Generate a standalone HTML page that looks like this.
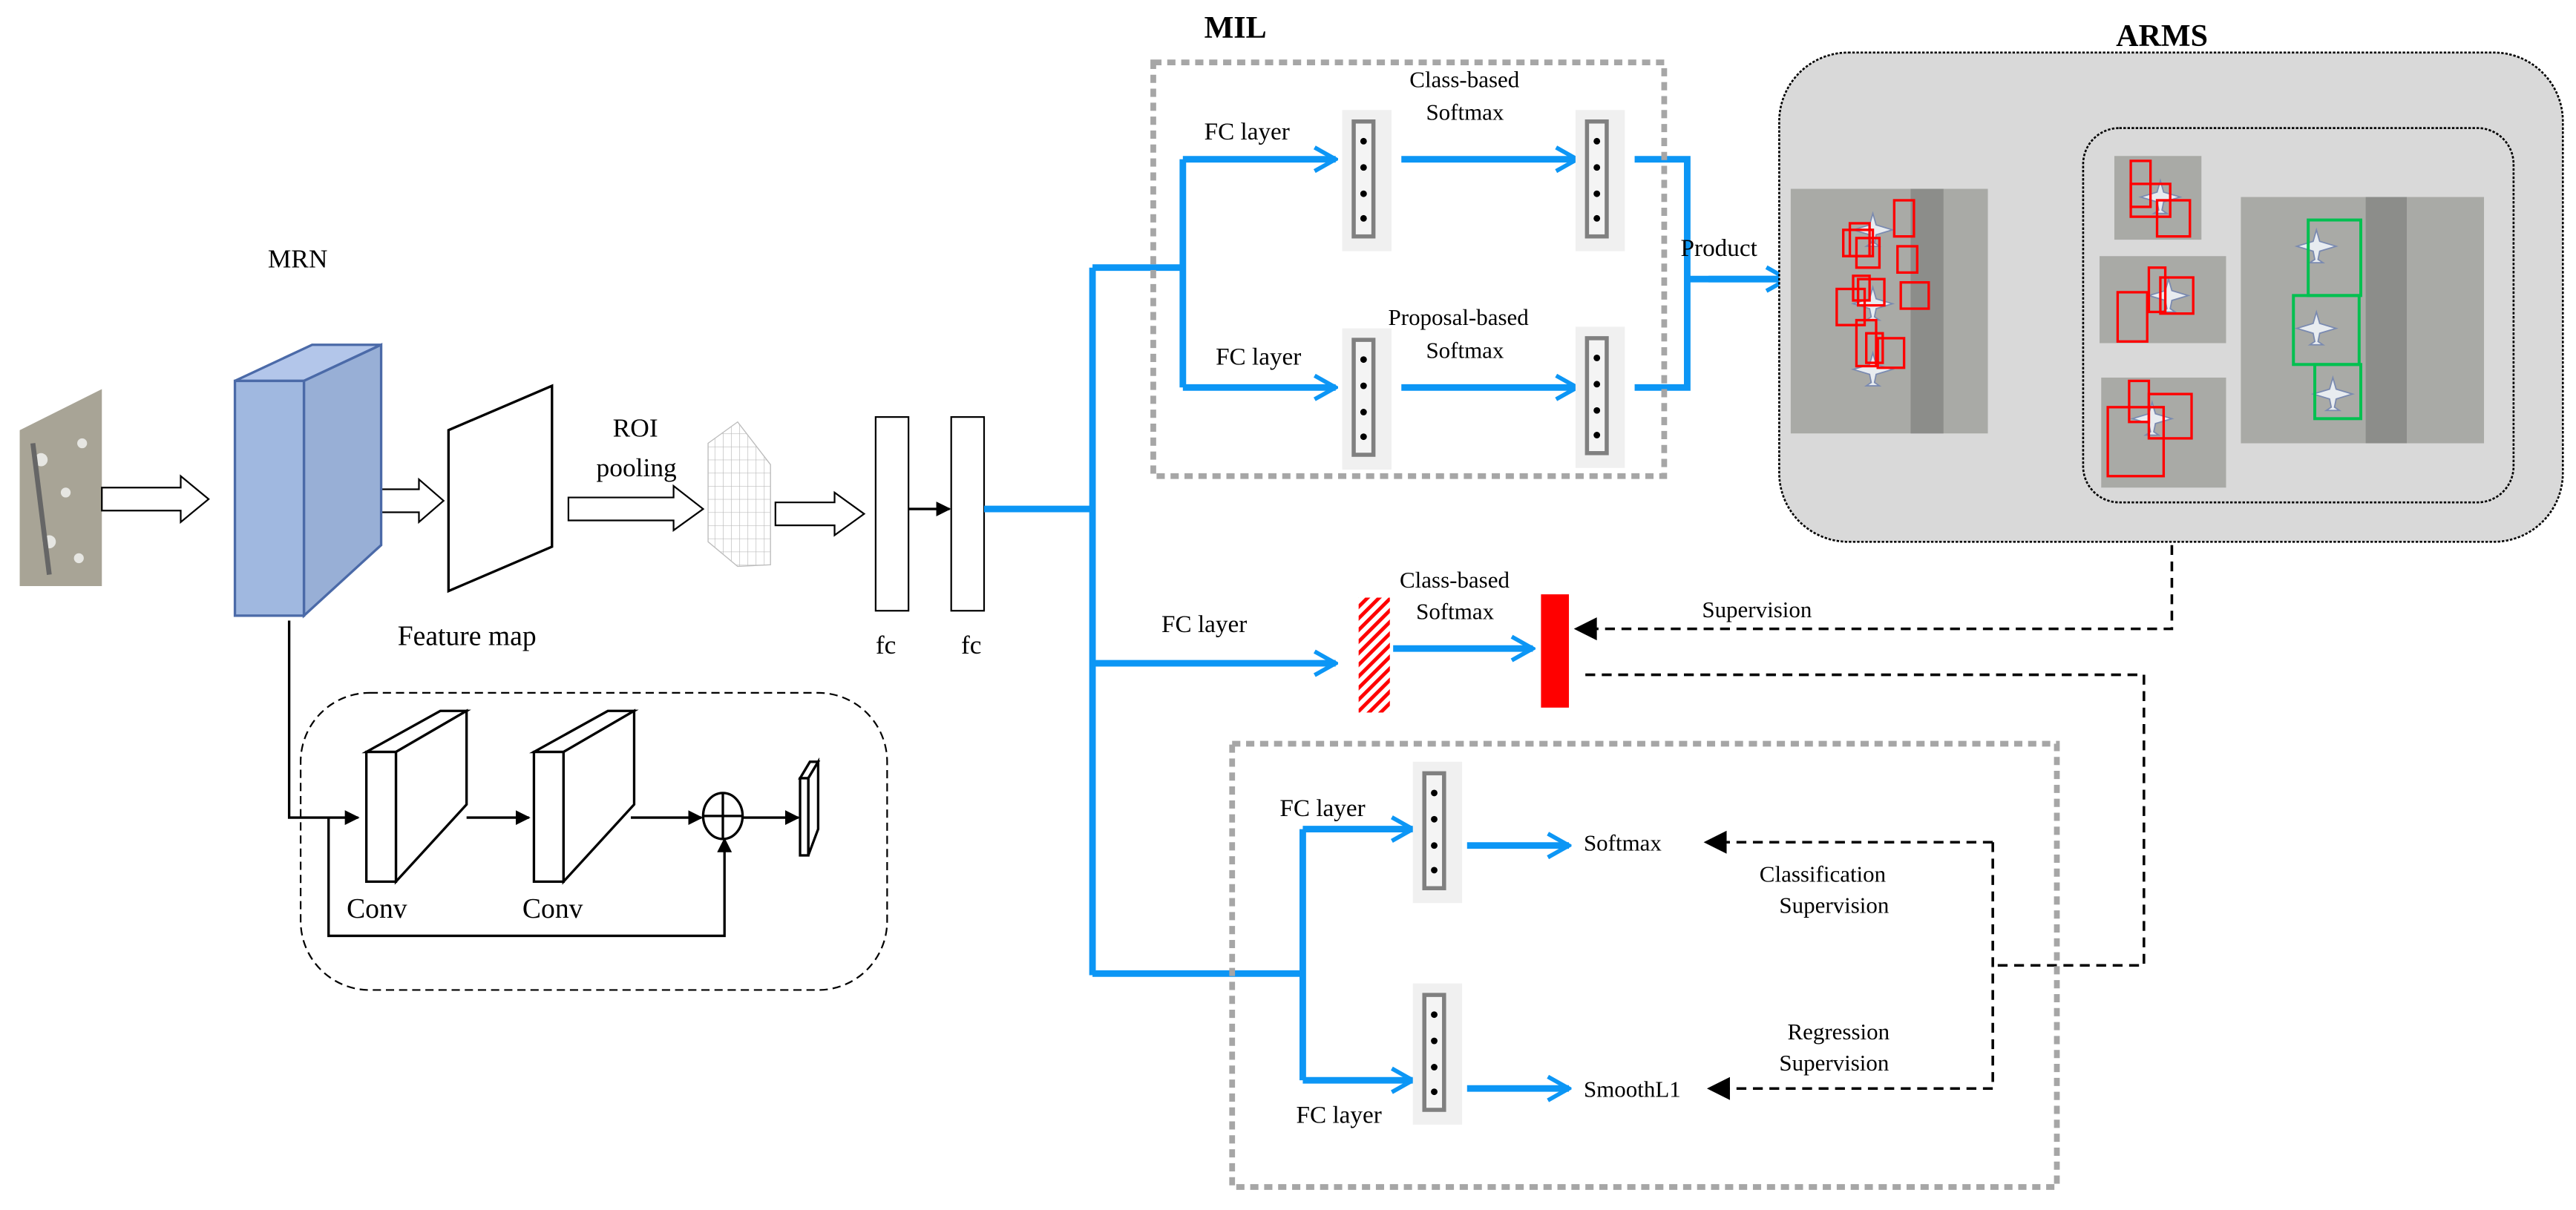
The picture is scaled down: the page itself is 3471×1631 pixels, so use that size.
<!DOCTYPE html>
<html><head><meta charset="utf-8"><style>html,body{margin:0;padding:0;background:#fff}svg{display:block}text{font-family:"Liberation Serif","Noto Serif CJK SC",serif;fill:#000}</style></head><body>
<svg width="3471" height="1631" viewBox="0 0 1568 737" preserveAspectRatio="none" xmlns="http://www.w3.org/2000/svg">
<defs>
<marker id="ba" viewBox="0 0 10 10" refX="9" refY="5" markerWidth="4" markerHeight="5" orient="auto" markerUnits="strokeWidth"><path d="M1,0.5 L9,5 L1,9.5" fill="none" stroke="#0c96f5" stroke-width="1.6"/></marker>
<marker id="ka" viewBox="0 0 10 10" refX="9" refY="5" markerWidth="6" markerHeight="6" orient="auto" markerUnits="strokeWidth"><path d="M0,0 L10,5 L0,10z" fill="#000"/></marker>
<pattern id="hatch" width="5" height="5" patternUnits="userSpaceOnUse" patternTransform="rotate(45)"><rect width="2.2" height="5" fill="#f00"/></pattern>
<pattern id="gridp" width="5" height="8" patternUnits="userSpaceOnUse"><path d="M0,0H5M0,0V8" stroke="#bbb" stroke-width="0.6" fill="none"/></pattern>
<g id="mod"><rect x="0" y="0" width="30" height="86" fill="#f0f0f0"/><rect x="7" y="7" width="12" height="70" fill="#f4f4f4" stroke="#808080" stroke-width="2.5"/><circle cx="13" cy="19" r="2" fill="#000"/><circle cx="13" cy="35" r="2" fill="#000"/><circle cx="13" cy="51" r="2" fill="#000"/><circle cx="13" cy="66" r="2" fill="#000"/></g>
<g id="plane"><path d="M0,-10 L2,-3 L12,0 L2,3 L1,8 L4,10 L-4,10 L-1,8 L-2,3 L-12,0 L-2,-3Z" fill="#e8ecf0" stroke="#7a8ab0" stroke-width="0.8"/></g>
</defs>
<!-- input image -->
<polygon points="12,262 62,237 62,357 12,357" fill="#a8a496"/>
<g fill="#e6e6e2"><circle cx="25" cy="280" r="4"/><circle cx="40" cy="300" r="3"/><circle cx="30" cy="330" r="4"/><circle cx="50" cy="270" r="3"/><circle cx="48" cy="340" r="3"/></g>
<path d="M20,270 L30,350" stroke="#666" stroke-width="3"/>
<!-- hollow arrows -->
<g fill="#fff" stroke="#000" stroke-width="1">
<path d="M62,297 H110 V290 L127,304 L110,318 V311 H62Z"/>
<path d="M229,298 H255 V292 L270,305 L255,318 V312 H229Z"/>
<path d="M346,303 H410 V296 L428,310 L410,323 V317 H346Z"/>
<path d="M472,306 H508 V300 L526,313 L508,326 V320 H472Z"/>
</g>
<!-- MRN -->
<text x="163" y="163" font-size="16">MRN</text>
<polygon points="143,232 185,232 232,210 190,210" fill="#b3c6ea" stroke="#4b6aa8" stroke-width="1.5"/>
<polygon points="185,232 232,210 232,332 185,375" fill="#98afd6" stroke="#4b6aa8" stroke-width="1.5"/>
<rect x="143" y="232" width="42" height="143" fill="#a0b8e0" stroke="#4b6aa8" stroke-width="1.5"/>
<!-- feature map -->
<polygon points="273,262 336,235 336,333 273,360" fill="#fff" stroke="#000" stroke-width="1.5"/>
<text x="242" y="393" font-size="17">Feature map</text>
<text x="373" y="266" font-size="16">ROI</text>
<text x="363" y="290" font-size="16">pooling</text>
<!-- grid -->
<polygon points="431,270 449,257 469,283 469,344 449,345 431,330" fill="url(#gridp)" stroke="#bbb" stroke-width="0.6"/>
<!-- fc -->
<rect x="533" y="254" width="20" height="118" fill="#fff" stroke="#000" stroke-width="1"/>
<rect x="579" y="254" width="20" height="118" fill="#fff" stroke="#000" stroke-width="1"/>
<line x1="553" y1="310" x2="578" y2="310" stroke="#000" stroke-width="1.5" marker-end="url(#ka)"/>
<text x="533" y="398" font-size="16">fc</text><text x="585" y="398" font-size="16">fc</text>
<!-- blue trunk -->
<g stroke="#0c96f5" stroke-width="4" fill="none">
<path d="M599,310 H665 M665,163 V594 M665,163 H720 M720,97 V236"/>
<path d="M720,97 H813" marker-end="url(#ba)"/>
<path d="M720,236 H813" marker-end="url(#ba)"/>
<path d="M853,97 H960" marker-end="url(#ba)"/>
<path d="M853,236 H960" marker-end="url(#ba)"/>
<path d="M995,97 H1027 V236 H995 M1027,170 H1088" />
<path d="M1040,170 H1088" marker-end="url(#ba)"/>
<path d="M665,404 H813" marker-end="url(#ba)"/>
<path d="M848,395 H933" marker-end="url(#ba)"/>
<path d="M665,593 H793 M793,505 V658"/>
<path d="M793,505 H860" marker-end="url(#ba)"/>
<path d="M793,658 H860" marker-end="url(#ba)"/>
<path d="M893,515 H955" marker-end="url(#ba)"/>
<path d="M893,663 H955" marker-end="url(#ba)"/>
</g>
<!-- MIL box -->
<text x="733" y="23" font-size="19" font-weight="bold">MIL</text>
<rect x="702" y="38" width="311" height="252" fill="none" stroke="#a6a6a6" stroke-width="3.5" stroke-dasharray="5,3.5"/>
<use href="#mod" x="817" y="67"/><use href="#mod" x="959" y="67"/>
<use href="#mod" x="817" y="200"/><use href="#mod" x="959" y="199"/>
<text x="733" y="85" font-size="15">FC layer</text>
<text x="740" y="222" font-size="15">FC layer</text>
<text x="858" y="53" font-size="14">Class-based</text>
<text x="868" y="73" font-size="14">Softmax</text>
<text x="845" y="198" font-size="14">Proposal-based</text>
<text x="868" y="218" font-size="14">Softmax</text>
<text x="1023" y="156" font-size="15">Product</text>
<!-- ARMS -->
<text x="1288" y="28" font-size="19" font-weight="bold">ARMS</text>
<rect x="1083" y="32" width="477" height="298" rx="42" fill="#d9d9d9" stroke="#000" stroke-width="1.2" stroke-dasharray="1.5,1"/>
<rect x="1268" y="78" width="262" height="228" rx="22" fill="none" stroke="#000" stroke-width="1.2" stroke-dasharray="1.5,1"/>
<g>
<rect x="1090" y="115" width="120" height="149" fill="#a9aaa6"/><rect x="1163" y="115" width="20" height="149" fill="#8c8d8a"/>
<rect x="1287" y="95" width="53" height="51" fill="#a9aaa6"/>
<rect x="1278" y="156" width="77" height="53" fill="#a9aaa6"/>
<rect x="1279" y="230" width="76" height="67" fill="#a9aaa6"/>
<rect x="1364" y="120" width="148" height="150" fill="#a9aaa6"/><rect x="1440" y="120" width="25" height="150" fill="#8c8d8a"/>
<use href="#plane" x="1140" y="140"/><use href="#plane" x="1140" y="185"/><use href="#plane" x="1140" y="225"/>
<use href="#plane" x="1315" y="120"/><use href="#plane" x="1320" y="180"/><use href="#plane" x="1310" y="255"/>
<use href="#plane" x="1410" y="150"/><use href="#plane" x="1410" y="200"/><use href="#plane" x="1420" y="240"/>
</g>
<g fill="none" stroke="#f00" stroke-width="1.5">
<rect x="1153" y="122" width="12" height="22"/><rect x="1126" y="136" width="12" height="20"/><rect x="1122" y="140" width="18" height="16"/><rect x="1130" y="145" width="14" height="18"/><rect x="1155" y="150" width="12" height="16"/><rect x="1128" y="168" width="10" height="15"/><rect x="1118" y="176" width="17" height="22"/><rect x="1131" y="170" width="16" height="16"/><rect x="1157" y="172" width="17" height="16"/><rect x="1130" y="195" width="12" height="28"/><rect x="1136" y="203" width="10" height="18"/><rect x="1143" y="206" width="16" height="18"/>
<rect x="1297" y="98" width="12" height="28"/><rect x="1297" y="112" width="24" height="20"/><rect x="1313" y="122" width="20" height="22"/>
<rect x="1308" y="163" width="10" height="27"/><rect x="1315" y="169" width="20" height="22"/><rect x="1289" y="178" width="18" height="30"/>
<rect x="1296" y="232" width="12" height="25"/><rect x="1308" y="240" width="26" height="27"/><rect x="1283" y="248" width="34" height="42"/>
</g>
<g fill="none" stroke="#00c050" stroke-width="1.8"><rect x="1405" y="134" width="32" height="46"/><rect x="1396" y="180" width="40" height="42"/><rect x="1409" y="222" width="28" height="33"/></g>
<!-- middle -->
<text x="707" y="385" font-size="15">FC layer</text>
<rect x="827" y="364" width="19" height="70" fill="url(#hatch)"/>
<rect x="938" y="362" width="17" height="69" fill="#f00"/>
<text x="852" y="358" font-size="14">Class-based</text>
<text x="862" y="377" font-size="14">Softmax</text>
<text x="1036" y="376" font-size="14">Supervision</text>
<g stroke="#000" stroke-width="1.6" fill="none" stroke-dasharray="6,4">
<path d="M1322,332 V383 H970"/>
<path d="M965,411 H1305 V588 H1213"/>
<path d="M1213,513 H1050 M1213,513 V663 H1052"/>
</g>
<path d="M958,383 L972,376 L972,390Z" fill="#000"/>
<path d="M1037,513 L1051,506 L1051,520Z" fill="#000"/>
<path d="M1039,663 L1053,656 L1053,670Z" fill="#000"/>
<!-- bottom box -->
<rect x="750" y="453" width="502" height="270" fill="none" stroke="#a6a6a6" stroke-width="3.5" stroke-dasharray="5,3.5"/>
<use href="#mod" x="860" y="464"/><use href="#mod" x="860" y="599"/>
<text x="779" y="497" font-size="15">FC layer</text>
<text x="789" y="684" font-size="15">FC layer</text>
<text x="964" y="518" font-size="14">Softmax</text>
<text x="964" y="668" font-size="14">SmoothL1</text>
<text x="1071" y="537" font-size="14">Classification</text>
<text x="1083" y="556" font-size="14">Supervision</text>
<text x="1088" y="633" font-size="14">Regression</text>
<text x="1083" y="652" font-size="14">Supervision</text>
<!-- residual block -->
<rect x="183" y="422" width="357" height="181" rx="42" fill="none" stroke="#000" stroke-width="1" stroke-dasharray="5,3"/>
<g stroke="#000" stroke-width="1.5" fill="none">
<path d="M176,378 V498 H218" marker-end="url(#ka)"/>
<path d="M200,498 V570 H441 V511" marker-end="url(#ka)"/>
<path d="M284,498 H322" marker-end="url(#ka)"/>
<path d="M384,498 H427" marker-end="url(#ka)"/>
<path d="M452,498 H486" marker-end="url(#ka)"/>
</g>
<g fill="#fff" stroke="#000" stroke-width="1.5">
<polygon points="223,458 268,433 284,433 241,458"/><polygon points="241,458 284,433 284,490 241,537"/><rect x="223" y="458" width="18" height="79"/>
<polygon points="325,458 370,433 386,433 343,458"/><polygon points="343,458 386,433 386,490 343,537"/><rect x="325" y="458" width="18" height="79"/>
<polygon points="487,474 493,464 498,464 492,474"/><polygon points="492,474 498,464 498,505 492,521"/><rect x="487" y="474" width="5" height="47"/>
<ellipse cx="440" cy="497" rx="12" ry="14"/>
</g>
<path d="M428,497 H452 M440,483 V511" stroke="#000" stroke-width="1.5"/>
<text x="211" y="559" font-size="17">Conv</text>
<text x="318" y="559" font-size="17">Conv</text>
</svg>
</body></html>
